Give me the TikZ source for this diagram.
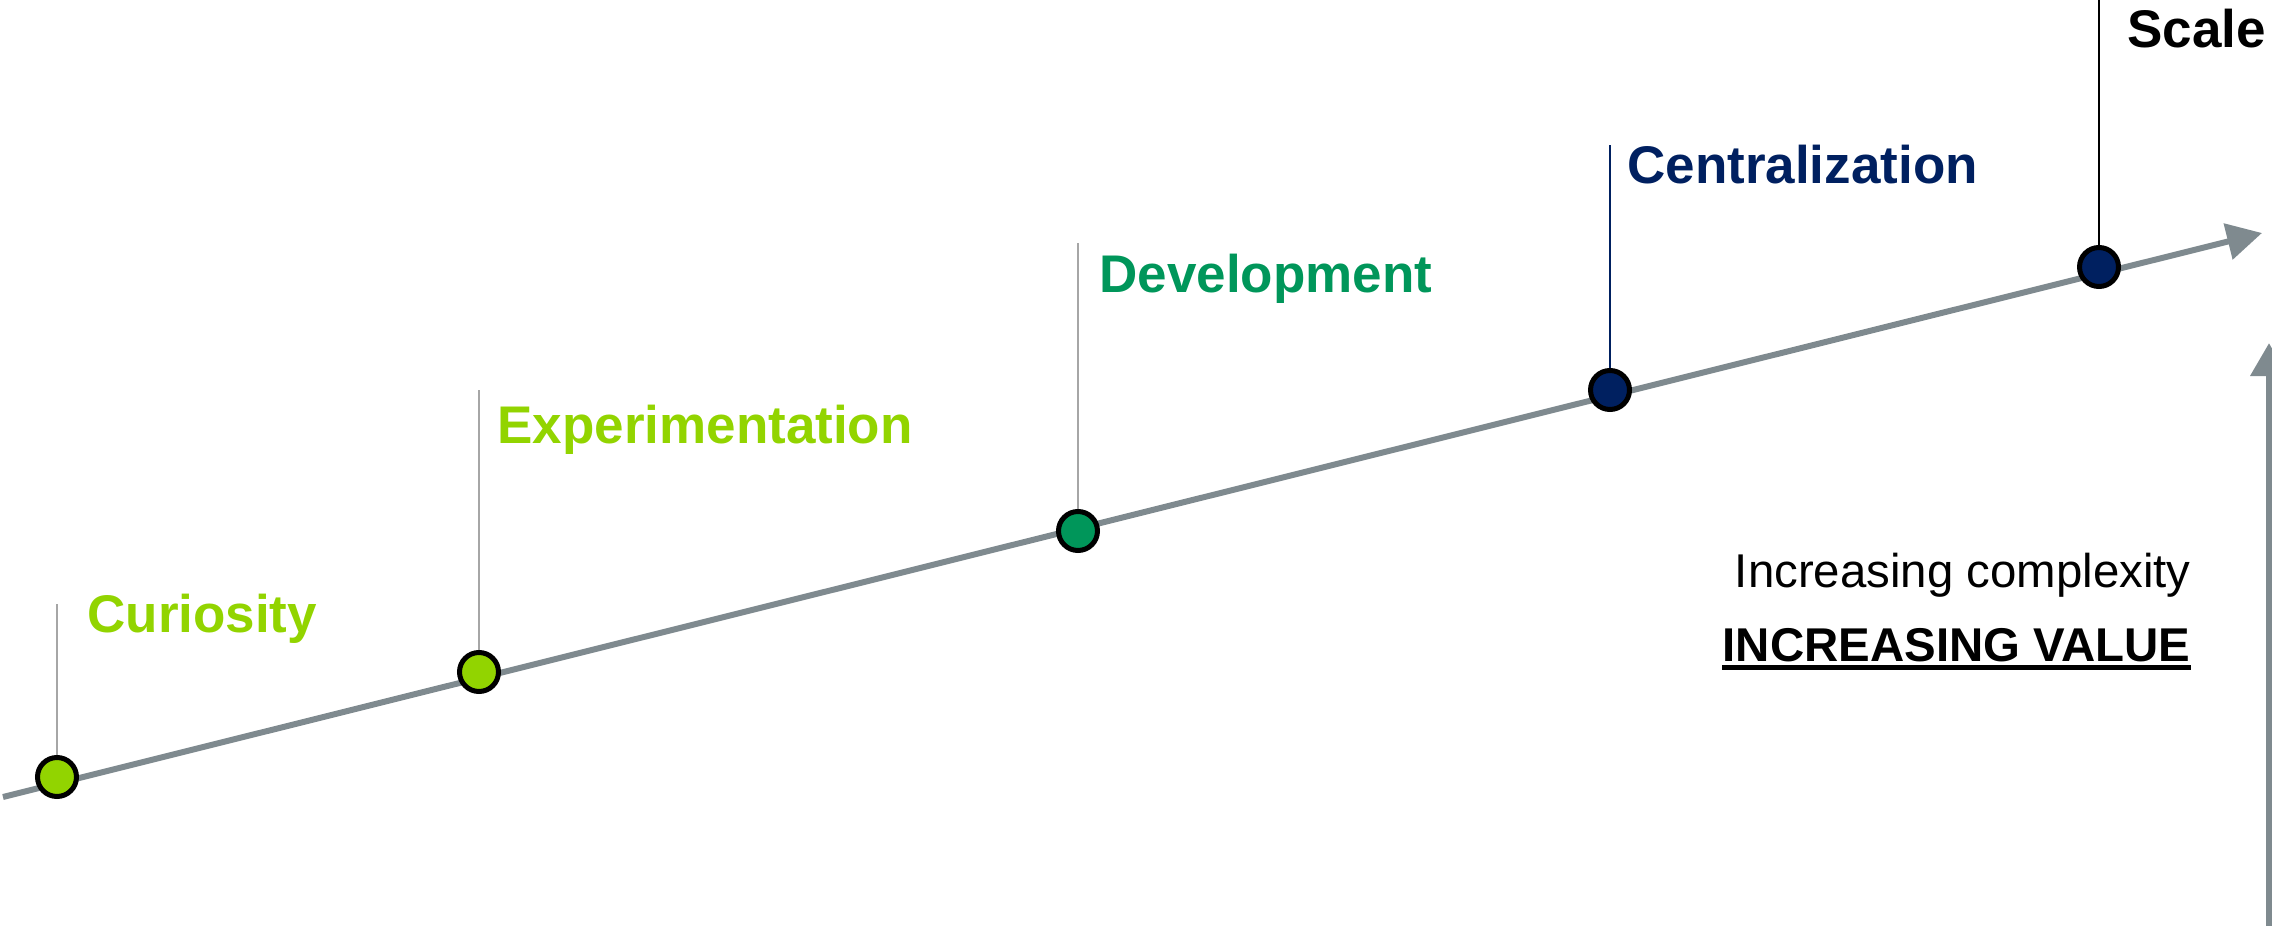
\documentclass[tikz,border=0pt]{standalone}
\usepackage{fontspec}
\setmainfont{Liberation Sans}
\usetikzlibrary{arrows.meta}
\definecolor{lgreen}{RGB}{146,212,0}
\definecolor{dgreen}{RGB}{0,150,90}
\definecolor{navy}{RGB}{0,32,96}
\definecolor{axisgray}{RGB}{127,138,143}
\definecolor{stemgray}{RGB}{166,166,166}
\tikzset{
  dot/.style={circle, draw=black, line width=2.5pt, minimum size=19.5pt, inner sep=0pt},
  stage/.style={font=\fontsize{26.5pt}{30pt}\selectfont\bfseries, inner sep=0pt, anchor=base west},
  stem/.style={line width=1pt},
  axis/.style={draw=axisgray, line width=3pt, -{Triangle[length=17.5pt,width=18pt]}},
  note/.style={font=\fontsize{23.7pt}{28pt}\selectfont, inner sep=0pt, anchor=base east}
}
\begin{document}
\begin{tikzpicture}[x=0.5pt,y=-0.5pt]
\useasboundingbox (0,0) rectangle (2272,926);
\clip (0,0) rectangle (2272,926);
% main axis
\coordinate (start) at (3,797);
\coordinate (tip) at (2262,233);
\draw[axis] (start) -- (tip);
% vertical arrow
\coordinate (vbot) at (2269,930);
\coordinate (vtop) at (2269,343);
\draw[draw=axisgray, line width=3.5pt, -{Triangle[length=16.5pt,width=18pt]}] (vbot) -- (vtop);
% stem tops
\coordinate (t1) at (57,604);
\coordinate (t2) at (479,390);
\coordinate (t3) at (1078,243);
\coordinate (t4) at (1610,145);
\coordinate (t5) at (2099,0);
% dots
\node[dot, fill=lgreen] (d1) at (57,777) {};
\node[dot, fill=lgreen] (d2) at (479,672) {};
\node[dot, fill=dgreen] (d3) at (1078,531) {};
\node[dot, fill=navy] (d4) at (1610,390) {};
\node[dot, fill=navy] (d5) at (2099,267) {};
% stems
\draw[stem, stemgray] (d1.north) -- (t1);
\draw[stem, stemgray] (d2.north) -- (t2);
\draw[stem, stemgray] (d3.north) -- (t3);
\draw[stem, navy] (d4.north) -- (t4);
\draw[stem, black] (d5.north) -- (t5);
% labels
\node[stage, text=lgreen] (l1) at (87,632) {Curiosity};
\node[stage, text=lgreen] (l2) at (497,443) {Experimentation};
\node[stage, text=dgreen] (l3) at (1099,292) {Development};
\node[stage, text=navy] (l4) at (1627,183) {Centralization};
\node[stage, text=black] (l5) at (2127,47) {Scale};
% notes
\node[note] (n1) at (2191,587) {Increasing complexity};
\node[note, font=\fontsize{23.7pt}{28pt}\selectfont\bfseries] (n2) at (2191,661) {INCREASING VALUE};
\draw[line width=2.5pt] ([yshift=-3.3pt]n2.base west) -- ([yshift=-3.3pt]n2.base east);
\end{tikzpicture}
\end{document}
